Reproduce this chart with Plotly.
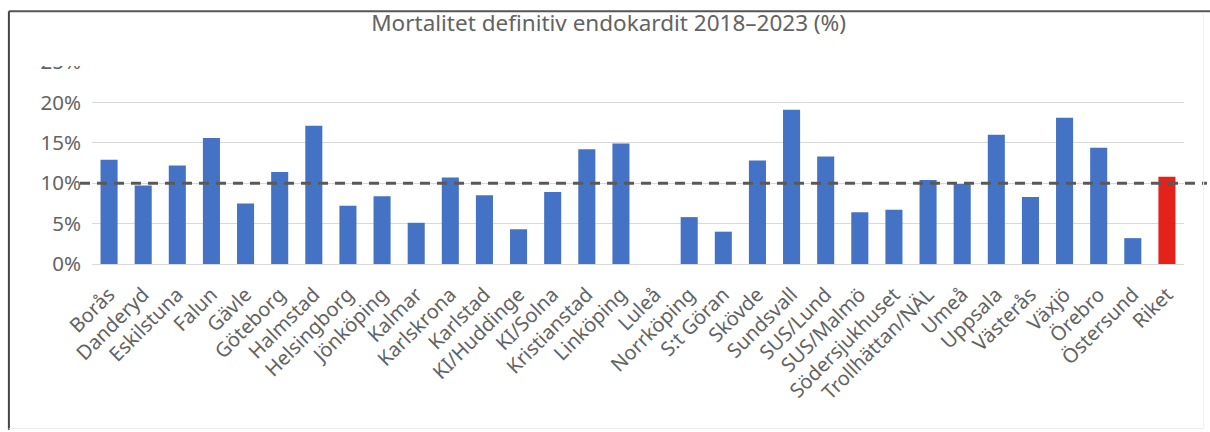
import plotly.graph_objects as go

# Sjukhus / regioner och mortalitet (%) vid definitiv endokardit 2018–2023
hospitals = [
    "Borås", "Danderyd", "Eskilstuna", "Falun", "Gävle", "Göteborg", "Halmstad",
    "Helsingborg", "Jönköping", "Kalmar", "Karlskrona", "Karlstad", "KI/Huddinge",
    "KI/Solna", "Kristianstad", "Linköping", "Luleå", "Norrköping", "S:t Göran",
    "Skövde", "Sundsvall", "SUS/Lund", "SUS/Malmö", "Södersjukhuset",
    "Trollhättan/NÄL", "Umeå", "Uppsala", "Västerås", "Växjö", "Örebro",
    "Östersund", "Riket",
]
mortality = [
    12.9, 9.7, 12.2, 15.6, 7.5, 11.4, 17.1,
    7.2, 8.4, 5.1, 10.7, 8.5, 4.3,
    8.9, 14.2, 14.9, None, 5.8, 4.0,
    12.8, 19.1, 13.3, 6.4, 6.7,
    10.4, 9.9, 16.0, 8.3, 18.1, 14.4,
    3.2, 10.8,
]
reference_level = 10
y_ticks = [0, 5, 10, 15, 20, 25]
y_tick_text = [f"{v}%" for v in y_ticks]

BLUE = "#4472C4"
RED = "#E3221B"
TEXT = "#636363"
FONT = "Noto Sans, Open Sans, DejaVu Sans, sans-serif"

bar_colors = [RED if h == "Riket" else BLUE for h in hospitals]

fig = go.Figure(
    go.Bar(
        x=hospitals,
        y=mortality,
        marker=dict(color=bar_colors, line=dict(width=0)),
        hoverinfo="x+y",
    )
)

# Streckad referenslinje vid 10 %
fig.add_shape(
    type="line",
    xref="paper", yref="y",
    x0=-0.011, x1=1.021,
    y0=reference_level, y1=reference_level,
    line=dict(color="#595959", width=3, dash="10px,7px"),
    layer="above",
)

# Vit remsa som skär av översta skalsteget under rubriken
fig.add_shape(
    type="rect",
    xref="paper", yref="paper",
    x0=-0.1, x1=1.05,
    y0=0.98, y1=1.075,
    fillcolor="white", line=dict(width=0),
    layer="above",
)

# Ramen runt diagrammet
fig.add_shape(type="line", xref="paper", yref="paper",
              x0=-0.0761, x1=1.03, y0=1.2515, y1=1.2515,
              line=dict(color="#555555", width=2))
fig.add_shape(type="line", xref="paper", yref="paper",
              x0=-0.0761, x1=-0.0761, y0=-0.82, y1=1.2515,
              line=dict(color="#444444", width=2))
fig.add_shape(type="line", xref="paper", yref="paper",
              x0=-0.0761, x1=1.018, y0=-0.815, y1=-0.815,
              line=dict(color="#EBEBEB", width=1))
fig.add_shape(type="line", xref="paper", yref="paper",
              x0=1.018, x1=1.018, y0=-0.815, y1=1.245,
              line=dict(color="#F0F0F0", width=1))

fig.update_layout(
    width=1210,
    height=432,
    margin=dict(l=92, r=26, t=62, b=168),
    paper_bgcolor="white",
    plot_bgcolor="white",
    bargap=0.5,
    showlegend=False,
    font=dict(family=FONT, color=TEXT, size=20),
    title=dict(
        text="Mortalitet definitiv endokardit 2018–2023 (%)",
        x=0.503, xanchor="center", xref="container",
        y=0.947, yanchor="middle",
        font=dict(family=FONT, size=22.5, color=TEXT),
    ),
    xaxis=dict(
        type="category",
        tickangle=-45,
        tickfont=dict(family=FONT, size=20, color=TEXT),
        showgrid=False,
        showline=False,
        ticks="",
        ticklabelstandoff=14,
        fixedrange=True,
    ),
    yaxis=dict(
        range=[0, 25],
        tickvals=y_ticks,
        ticktext=y_tick_text,
        tickfont=dict(family=FONT, size=20.5, color=TEXT),
        showgrid=True,
        gridcolor="#D9D9D9",
        gridwidth=1,
        zeroline=True,
        zerolinecolor="#D9D9D9",
        zerolinewidth=1,
        showline=False,
        ticks="",
        ticklabelstandoff=10,
        fixedrange=True,
    ),
)

fig.write_html("out.html")
